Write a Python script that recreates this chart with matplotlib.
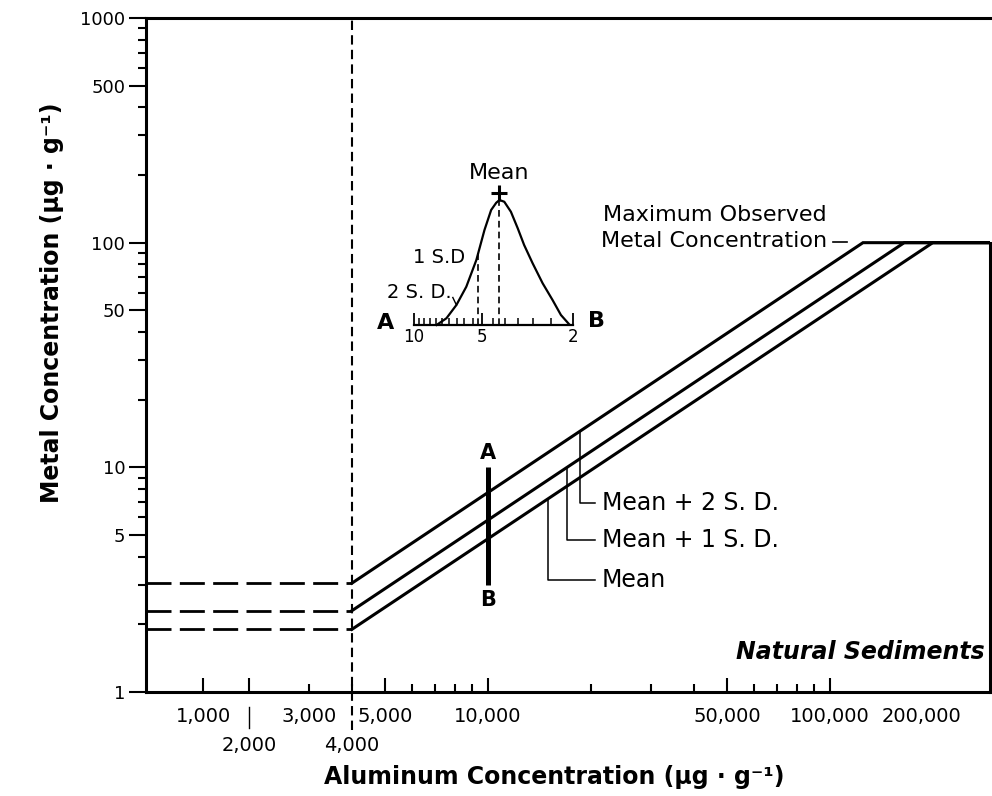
import numpy as np
import matplotlib
matplotlib.use("Agg")
import matplotlib.pyplot as plt
from matplotlib.ticker import FixedLocator, NullFormatter

# regression lines: flat below 4000 ug/g Al, capped at the max observed metal value
series = ["Mean", "Mean + 1 S. D.", "Mean + 2 S. D."]
metal_at_break = [1.9, 2.3, 3.05]
al_at_max = [200000, 165000, 125000]
al_break = 4000
al_left, al_right = 1000, 294000
metal_max = 100

# A-B bar at 10,000
bar_al = 10000
bar_low, bar_high = 3.0, 10.0

# label leaders
leader_al = [15000, 17000, 18600]
label_metal = [3.16, 4.76, 6.93]
leader_end_al = 20500
label_al = 21500

# axis ticks / labels
y_major = [1, 5, 10, 50, 100, 500, 1000]
y_labels = ["1", "5", "10", "50", "100", "500", "1000"]
y_minor = [2, 3, 4, 6, 7, 8, 9, 20, 30, 40, 60, 70, 80, 90,
           200, 300, 400, 600, 700, 800, 900]
x_major = [1470, 2000, 5000, 10000, 50000, 100000]
x_minor = [3000, 4000, 6000, 7000, 8000, 9000, 20000, 30000, 40000,
           60000, 70000, 80000, 90000]
xlab_row1 = ["1,000", "3,000", "5,000", "10,000", "50,000", "100,000", "200,000"]
xlab_row1_pos = [1470, 3000, 5000, 10000, 50000, 100000, 185000]
xlab_row2 = ["2,000", "4,000"]
xlab_row2_pos = [2000, 4000]

# inset distribution (metal conc. along A-B, relative frequency)
curve_conc = [7.96, 7.20, 6.51, 5.89, 5.32, 4.90, 4.58, 4.35, 4.21, 4.01,
              3.75, 3.50, 3.28, 3.01, 2.72, 2.46, 2.26, 2.08]
curve_freq = [0.0, 0.054, 0.16, 0.306, 0.52, 0.76, 0.92, 0.978, 1.0, 0.986,
              0.906, 0.774, 0.64, 0.494, 0.334, 0.2, 0.08, 0.006]
inset_mean = 4.21
inset_sd1, inset_sd1_freq = 5.24, 0.574
inset_sd2, inset_sd2_freq = 6.51, 0.16
inset_ticks = [10, 5, 2]
inset_minor = [9.5, 9, 8.5, 8, 7.5, 7, 6.5, 6, 5.5, 4.5, 4, 3.5, 3, 2.5]

plt.rcParams["font.family"] = ["DejaVu Sans"]

W, H = 992, 796
fig = plt.figure(figsize=(W / 100, H / 100), dpi=100)
ax = fig.add_axes([146 / W, 1 - 692 / H, (990 - 146) / W, (692 - 18) / H])
ax.set_xscale("log")
ax.set_yscale("log")
ax.set_xlim(al_left, al_right)
ax.set_ylim(1, 1000)

# lines
for m, amax in zip(metal_at_break, al_at_max):
    ax.plot([al_left, al_break], [m, m], color="k", lw=2, dashes=(9, 3))
    ax.plot([al_break, amax, al_right], [m, metal_max, metal_max],
            color="k", lw=2.2, solid_joinstyle="miter")

# dashed vertical at 4,000 (runs below the axis)
ax.plot([al_break, al_break], [0.68, 1000], color="k", lw=1.5,
        dashes=(4.5, 2.5), clip_on=False)
# small leader under 2,000
ax.plot([2000, 2000], [0.86, 0.69], color="k", lw=1, clip_on=False)

# A-B bar
ax.plot([bar_al, bar_al], [bar_low, bar_high], color="k", lw=3.6,
        solid_capstyle="butt")
ax.text(bar_al, bar_high * 1.05, "A", ha="center", va="bottom",
        fontsize=15, fontweight="bold")
ax.text(bar_al, bar_low * 0.95, "B", ha="center", va="top",
        fontsize=15, fontweight="bold")

# leaders + labels
for name, m, amax, lx, ly in zip(series, metal_at_break, al_at_max,
                                 leader_al, label_metal):
    ytop = 10 ** np.interp(np.log10(lx), np.log10([al_break, amax]),
                           np.log10([m, metal_max]))
    ax.plot([lx, lx, leader_end_al], [ytop, ly, ly], color="k", lw=1.1)
    ax.text(label_al, ly, name, ha="left", va="center", fontsize=17)

# maximum observed
ax.text(98000, 133, "Maximum Observed", ha="right", va="center", fontsize=16)
ax.text(98000, 102, "Metal Concentration", ha="right", va="center",
        fontsize=16)
ax.plot([102000, 112000], [101, 101], color="k", lw=1.2)

ax.text(0.994, 0.059, "Natural Sediments", transform=ax.transAxes,
        ha="right", va="center", fontsize=17, fontweight="bold",
        style="italic")

# ticks
ax.yaxis.set_major_locator(FixedLocator(y_major))
ax.set_yticklabels(y_labels)
ax.yaxis.set_minor_locator(FixedLocator(y_minor))
ax.yaxis.set_minor_formatter(NullFormatter())
ax.xaxis.set_major_locator(FixedLocator(x_major))
ax.xaxis.set_major_formatter(NullFormatter())
ax.xaxis.set_minor_locator(FixedLocator(x_minor))
ax.xaxis.set_minor_formatter(NullFormatter())
ax.tick_params(axis="x", which="major", direction="in", length=10, width=1.5)
ax.tick_params(axis="x", which="minor", direction="in", length=6, width=1.5)
ax.tick_params(axis="y", which="major", direction="out", length=12,
               width=1.5, labelsize=13, pad=3)
ax.tick_params(axis="y", which="minor", direction="out", length=6, width=1.5)

for lab, pos in zip(xlab_row1, xlab_row1_pos):
    ax.text(pos, 0.774, lab, ha="center", va="center", fontsize=14)
for lab, pos in zip(xlab_row2, xlab_row2_pos):
    ax.text(pos, 0.58, lab, ha="center", va="center", fontsize=14)

for s in ax.spines.values():
    s.set_linewidth(2.2)
ax.spines["right"].set_bounds(1, metal_max)

fig.text(554 / W, 1 - 777 / H, "Aluminum Concentration (µg · g⁻¹)",
         ha="center", va="center", fontsize=17, fontweight="bold")
fig.text(52 / W, 1 - 303 / H, "Metal Concentration (µg · g⁻¹)",
         ha="center", va="center", fontsize=17, fontweight="bold",
         rotation=90)

# inset
ins = fig.add_axes([414 / W, 1 - 325 / H, 159 / W, 125 / H])
ins.set_xscale("log")
ins.set_xlim(10, 2)
ins.set_ylim(0, 1)
ins.patch.set_alpha(0)
for side in ["top", "right", "left"]:
    ins.spines[side].set_visible(False)
ins.spines["bottom"].set_linewidth(1.6)
ins.plot(curve_conc, curve_freq, color="k", lw=1.6, clip_on=False)
ins.plot([inset_mean, inset_mean], [0, 1], color="k", lw=1.2,
         dashes=(4, 2.5))
ins.plot([inset_sd1, inset_sd1], [0, inset_sd1_freq], color="k", lw=1.2,
         dashes=(4, 2.5))
ins.plot([inset_mean], [1.06], marker="+", ms=11, mew=2.2, color="k",
         clip_on=False)
ins.text(inset_mean, 1.22, "Mean", ha="center", va="center", fontsize=16)
ins.text(5.95, inset_sd1_freq - 0.03, "1 S.D", ha="right", va="center",
         fontsize=14)
ins.text(6.85, inset_sd2_freq + 0.1, "2 S. D.", ha="right", va="center",
         fontsize=14)
ins.plot([6.75, inset_sd2], [inset_sd2_freq + 0.06, inset_sd2_freq],
         color="k", lw=1)
ins.text(13.4, 0.02, "A", ha="center", va="center", fontsize=16,
         fontweight="bold")
ins.text(1.57, 0.03, "B", ha="center", va="center", fontsize=16,
         fontweight="bold")
ins.xaxis.set_major_locator(FixedLocator(inset_ticks))
ins.set_xticklabels([str(t) for t in inset_ticks])
ins.xaxis.set_minor_locator(FixedLocator(inset_minor))
ins.xaxis.set_minor_formatter(NullFormatter())
ins.set_yticks([])
ins.tick_params(axis="x", which="major", direction="in", length=9,
                width=1.3, labelsize=12, pad=2)
ins.tick_params(axis="x", which="minor", direction="in", length=5, width=1.1)

fig.savefig("out.png", dpi=100)
